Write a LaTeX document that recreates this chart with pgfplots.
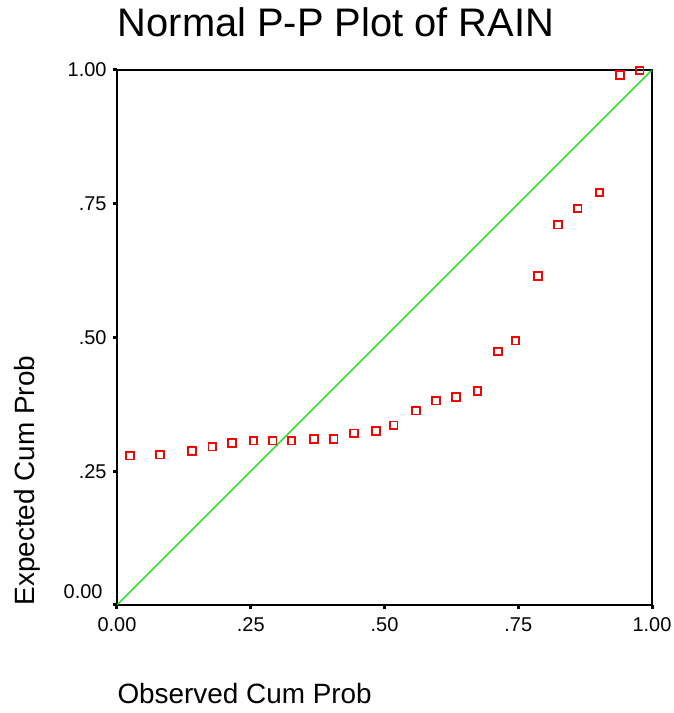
\documentclass[border=0pt]{standalone}
\usepackage{fontspec}
\setmainfont{Liberation Sans}
\usepackage{pgfplots}
\pgfplotsset{compat=1.18}
\definecolor{ppred}{RGB}{255,0,0}
\definecolor{ppgreen}{RGB}{0,225,0}

\begin{document}
\begin{tikzpicture}[x=1bp,y=1bp]
\useasboundingbox (-117,-108) rectangle (557,605);
\begin{axis}[
  at={(0,0)}, anchor=south west,
  scale only axis, width=535bp, height=535bp,
  xmin=0, xmax=1, ymin=0, ymax=1,
  xtick={0,0.25,0.5,0.75,1}, ytick={0,0.25,0.5,0.75,1},
  xticklabels={0.00,.25,.50,.75,1.00},
  yticklabels={,.25,.50,.75,1.00},
  axis line style={line width=1.6bp},
  tick align=outside, major tick length=4bp,
  tick style={line width=3bp, black},
  xtick pos=bottom, ytick pos=left,
  /pgf/number format/assume math mode=true,
  ticklabel style={font=\fontsize{20}{20}\selectfont},
  xticklabel style={anchor=north, yshift=-5bp},
  yticklabel style={anchor=east, xshift=-3bp},
  clip=false,
]
\addplot[ppgreen, line width=1.3bp] coordinates {(0,0) (1,1)};
% observed vs expected cum prob
\addplot[only marks, mark=square, mark size=3.8bp, ppred,
  mark options={line width=1.8bp}] coordinates {
  (0.024,0.279) (0.080,0.281) (0.140,0.288) (0.178,0.296) (0.215,0.303)
  (0.255,0.307) (0.291,0.307) (0.326,0.307) (0.368,0.310) (0.405,0.310)
  (0.443,0.321) (0.484,0.325) (0.517,0.336) (0.559,0.363) (0.596,0.382)
  (0.634,0.389) (0.674,0.400) (0.712,0.474) (0.745,0.494) (0.787,0.615)
  (0.824,0.711) (0.861,0.741) (0.902,0.771) (0.940,0.991) (0.977,0.999)};
\end{axis}
\node[anchor=east, font=\fontsize{20}{20}\selectfont] at (-11,13) {0.00};
\node[anchor=base, font=\fontsize{40}{40}\selectfont] at (219,568) {Normal P-P Plot of RAIN};
\node[anchor=base west, font=\fontsize{28}{28}\selectfont] at (-3,-98) {Observed Cum Prob};
\node[anchor=base west, rotate=90, font=\fontsize{28}{28}\selectfont] at (-82,-4) {Expected Cum Prob};
\end{tikzpicture}
\end{document}
